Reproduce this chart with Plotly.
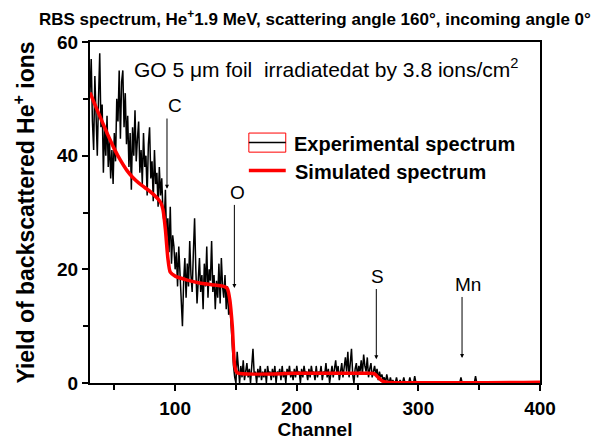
import plotly.graph_objects as go

# ---------------- data ----------------
exp_channels = list(range(30, 351))
exp_counts = (
    [51, 57, 46, 41, 54, 47, 40, 50, 58, 45] +
    [49, 37, 45, 40, 47, 38, 43, 36, 41, 35] +
    [44, 39, 50, 46, 55, 43, 53, 55, 45, 51] +
    [42, 47, 38, 44, 34, 45, 40, 48, 39, 43] +
    [46, 37, 41, 35, 44, 38, 40, 33, 42, 45] +
    [36, 39, 32, 41, 35, 37, 31, 38, 33, 36] +
    [30, 28, 34, 25, 29, 23, 31, 21, 26, 24] +
    [20, 23, 17, 24, 19, 14, 10, 18, 22, 15] +
    [21, 17, 25, 19, 16, 23, 29, 20, 14, 18] +
    [22, 16, 19, 13, 21, 17, 24, 15, 20, 18] +
    [25, 16, 19, 13, 18, 15, 21, 14, 22, 17] +
    [15, 19, 13, 17, 12, 14, 10, 7, 3, 1] +
    [0, 5.5, 2, 0, 3, 1, 4, 0.5, 2, 3.5] +
    [1, 2.5, 0, 3, 6, 1.5, 2, 0, 2.5, 1] +
    [3, 0.5, 2, 1, 2.5, 0, 3, 1.5, 2, 0.5] +
    [2.5, 1, 3, 0, 2, 1.5, 2.5, 0.5, 3, 1] +
    [2, 0, 2.5, 1.5, 3, 1, 2, 0.5, 2.5, 1] +
    [3, 1.5, 2, 0, 2.5, 1, 3, 1.5, 2, 0.5] +
    [2.5, 1, 3, 1.5, 2, 0.5, 3, 1, 2, 1.5] +
    [3, 0.5, 2, 1.5, 3.5, 1, 2.5, 0, 2, 3] +
    [1, 2.5, 4, 1.5, 3, 0.5, 2, 3.5, 1, 2.5] +
    [4.5, 2, 5.5, 1, 3, 6, 1.5, 0, 2.5, 3.5] +
    [1, 3, 2, 4, 1.5, 5, 3, 2, 4.5, 1] +
    [2.5, 3.5, 1, 2, 3, 1.5, 2.5, 0.5, 2, 1] +
    [1.5, 0.5, 1, 0, 1.5, 0.5, 0, 1, 0, 0.5] +
    [0, 0, 1, 0, 0, 0.5, 0, 0, 1, 0] +
    [0, 0, 0, 1, 0, 0, 0, 1.2, 0, 0] +
    [0, 0, 0, 0, 0, 0, 0, 0, 0, 0] +
    [0, 0, 0, 0, 0, 0, 0, 0, 0, 0] +
    [0, 0, 0, 0, 0, 0, 0, 0, 0, 0] +
    [0, 0, 0, 0, 0, 1, 0, 0, 0, 0] +
    [0, 0, 0, 0, 0, 0, 0, 1.2, 0, 0] +
    [0]
)

sim_channels = [30, 35, 40, 45, 50, 55, 60, 65, 70, 75, 80, 85, 88, 90, 92, 94, 96,
                100, 110, 120, 130, 140, 143, 145, 147, 149, 151, 200, 260, 264,
                266, 270, 274, 400]
sim_counts = [51.1, 48.5, 46.0, 43.5, 41.2, 39.2, 37.5, 36.2, 35.2, 34.4, 33.6, 32.6,
              31.8, 30.5, 27.0, 22.0, 19.5, 18.8, 18.1, 17.6, 17.3, 17.0, 16.6, 14.6,
              10.0, 3.0, 1.8, 1.7, 1.7, 1.6, 1.2, 0.4, 0.15, 0.15]

# element markers: label, arrow x, arrow top, arrow tip, label x, label y
elements = ["C", "O", "S", "Mn"]
elem_arrow_x = [93.3, 148.7, 265.4, 335.9]
elem_arrow_top = [46.8, 31.6, 16.8, 15.4]
elem_arrow_tip = [34.2, 16.7, 4.2, 4.4]
elem_label_x = [99.9, 150.9, 266.0, 340.8]
elem_label_y = [48.9, 33.5, 18.8, 17.4]

x_ticks = [100, 200, 300, 400]
y_ticks = [0, 20, 40, 60]

FONT = "Liberation Sans, Arial, sans-serif"

fig = go.Figure()
fig.add_trace(go.Scatter(x=exp_channels, y=exp_counts, mode="lines",
                         line=dict(color="black", width=1.5),
                         name="Experimental spectrum", showlegend=False))
fig.add_trace(go.Scatter(x=sim_channels, y=sim_counts, mode="lines",
                         line=dict(color="#ff0000", width=3.5, shape="spline", smoothing=0.6),
                         name="Simulated spectrum", showlegend=False))

annotations = []
for lab, ax_, top, tip, lx, ly in zip(elements, elem_arrow_x, elem_arrow_top,
                                      elem_arrow_tip, elem_label_x, elem_label_y):
    annotations.append(dict(x=ax_, y=tip, ax=ax_, ay=top, xref="x", yref="y",
                            axref="x", ayref="y", text="", showarrow=True,
                            arrowhead=2, arrowsize=0.8, arrowwidth=1, arrowcolor="black"))
    annotations.append(dict(x=lx, y=ly, xref="x", yref="y", text=lab, showarrow=False,
                            font=dict(family=FONT, size=19, color="black")))

annotations.append(dict(
    x=0.5, y=1, xref="paper", yref="paper", xanchor="center", yanchor="bottom",
    yshift=11,
    text="<b>RBS spectrum, He<sup>+</sup>1.9 MeV, scattering angle 160°, incoming angle 0°</b>",
    showarrow=False, font=dict(family=FONT, size=17, color="black")))
annotations.append(dict(
    x=0.093, y=0.925, xref="paper", yref="paper", xanchor="left", yanchor="middle",
    text="GO 5 μm foil  irradiatedat by 3.8 ions/cm<sup>2</sup>",
    showarrow=False, font=dict(family=FONT, size=21, color="black")))

# legend (manual)
annotations.append(dict(x=0.448, y=0.700, xref="paper", yref="paper", xanchor="left",
                        yanchor="middle", text="<b>Experimental spectrum</b>", showarrow=False,
                        font=dict(family=FONT, size=20, color="black")))
annotations.append(dict(x=0.451, y=0.620, xref="paper", yref="paper", xanchor="left",
                        yanchor="middle", text="<b>Simulated spectrum</b>", showarrow=False,
                        font=dict(family=FONT, size=20, color="black")))

shapes = [
    dict(type="rect", xref="paper", yref="paper", x0=0.353, x1=0.435, y0=0.677, y1=0.733,
         line=dict(color="#ff0000", width=1), fillcolor="rgba(0,0,0,0)"),
    dict(type="line", xref="paper", yref="paper", x0=0.353, x1=0.435, y0=0.705, y1=0.705,
         line=dict(color="black", width=1.5)),
    dict(type="line", xref="paper", yref="paper", x0=0.353, x1=0.435, y0=0.623, y1=0.623,
         line=dict(color="#ff0000", width=3.5)),
]

fig.update_layout(
    width=598, height=442,
    margin=dict(l=90, r=58, t=42, b=59),
    paper_bgcolor="white", plot_bgcolor="white",
    font=dict(family=FONT, color="black"),
    annotations=annotations, shapes=shapes,
    showlegend=False,
)
fig.update_xaxes(
    range=[30, 400], tickmode="array", tickvals=x_ticks,
    ticktext=[f"<b>{v}</b>" for v in x_ticks],
    ticks="outside", ticklen=6, tickwidth=2, tickcolor="black",
    showline=True, linewidth=2, linecolor="black", mirror=True,
    showgrid=False, zeroline=False, automargin=False,
    tickfont=dict(family=FONT, size=19, color="black"),
    ticklabelstandoff=1,
    minor=dict(tickvals=[50, 150, 250, 350], ticks="outside", ticklen=5,
               tickwidth=2, tickcolor="black", showgrid=False),
    title=dict(text="<b>Channel</b>", standoff=4,
               font=dict(family=FONT, size=19, color="black")),
)
fig.update_yaxes(
    range=[0, 60], tickmode="array", tickvals=y_ticks,
    ticktext=[f"<b>{v}</b>" for v in y_ticks],
    ticks="outside", ticklen=6, tickwidth=2, tickcolor="black",
    showline=True, linewidth=2, linecolor="black", mirror=True,
    showgrid=False, zeroline=False, automargin=False,
    tickfont=dict(family=FONT, size=19, color="black"),
    minor=dict(tickvals=[10, 30, 50], ticks="outside", ticklen=5,
               tickwidth=2, tickcolor="black", showgrid=False),
    title=dict(text="<b>Yield of backscattered He<sup>+</sup> ions</b>", standoff=16,
               font=dict(family=FONT, size=23, color="black")),
)

fig.write_html("out.html")
